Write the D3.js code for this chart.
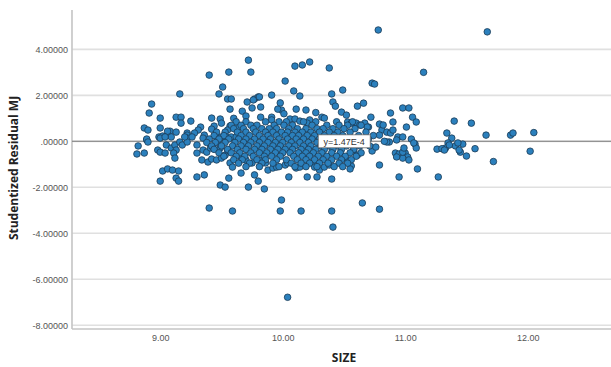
<!DOCTYPE html>
<html>
<head>
<meta charset="utf-8">
<script src="https://cdn.jsdelivr.net/npm/d3@7"></script>
<style>
  html, body { margin: 0; padding: 0; background: #fff; }
  svg { display: block; }
</style>
</head>
<body>
<svg id="chart" width="611" height="367"></svg>
<script>
// ---------- data ----------
const xTickValues = [9, 10, 11, 12];
const yTickValues = [4, 2, 0, -2, -4, -6, -8];
const xTitle = "SIZE";
const yTitle = "Studentized Residual MJ";
const fitLabel = "y=1.47E-4";
const fitValue = 0.000147;

// sparse / outlying points [SIZE, studentized residual]
const outerPoints = [
  [10.78,4.84],[11.67,4.76],[10.04,-6.78],[11.15,3.00],[10.73,2.53],[10.75,2.49],
  [9.72,3.53],[9.74,3.01],[10.10,3.27],[10.16,3.32],[10.22,3.45],[10.38,3.19],[9.40,2.88],[9.56,3.01],
  [9.16,2.06],[8.93,1.62],[8.91,1.23],[9.00,1.01],[9.48,2.06],[9.51,2.36],[10.02,2.62],[10.09,2.19],
  [10.14,1.97],[10.40,2.06],[10.49,2.23],[9.55,1.84],[9.58,1.84],[9.57,1.40],[9.71,1.71],[9.77,1.84],
  [9.80,1.93],[9.75,1.45],[9.82,1.49],[9.91,2.01],[9.98,1.67],[9.99,1.36],[9.67,1.31],[9.42,1.01],
  [9.13,1.05],[9.17,1.05],[9.17,0.79],[9.25,0.88],[9.00,0.58],[8.87,0.58],[8.90,0.49],[9.08,0.44],
  [8.81,-0.55],[8.87,-0.51],[8.82,-0.20],[8.89,0.06],
  [9.00,-1.73],[9.02,-1.29],[9.06,-1.20],[9.10,-1.25],[9.15,-1.29],[9.13,-1.60],[9.15,-1.73],[9.30,-1.55],
  [9.36,-1.46],[9.49,-1.90],[9.53,-1.99],[9.56,-1.60],[9.66,-1.38],[9.72,-1.99],[9.77,-1.46],[9.80,-1.73],
  [9.85,-2.07],[9.99,-2.55],[9.98,-3.03],[10.15,-3.03],[10.40,-3.03],[10.41,-3.73],[9.59,-3.03],[9.40,-2.90],
  [10.05,-1.55],[10.20,-1.55],[10.28,-1.55],[10.40,-1.64]
];

// right-hand points
const rightPoints = [
  [10.41,1.71],[10.43,1.53],[10.19,1.36],[10.48,1.27],[10.52,1.14],[10.61,1.53],[10.66,1.66],[10.72,1.05],
  [10.88,1.23],[10.98,1.45],[11.03,1.45],[11.06,1.05],[11.09,0.84],[10.90,0.84],[11.01,0.62],[10.79,0.75],
  [10.81,0.49],[10.70,0.62],[10.85,0.40],[10.88,0.36],[10.94,0.19],[10.98,0.19],[11.05,0.10],[11.08,-0.12],
  [11.09,-0.29],[11.40,0.88],[11.54,0.79],[11.34,0.36],[11.38,0.14],[11.66,0.27],[11.86,0.27],[11.88,0.36],
  [12.05,0.38],[12.02,-0.43],[11.72,-0.88],[11.57,-0.32],[11.50,-0.64],[11.45,-0.47],[11.47,-0.12],[11.41,-0.20],
  [11.35,-0.07],[11.33,-0.29],[11.26,-0.34],[11.27,-1.55],[11.10,-1.20],[10.95,-1.55],[10.79,-1.03],[10.92,-0.51],
  [10.95,-0.55],[11.00,-0.51],[11.02,-0.68],[10.98,-0.73],[10.65,-2.68],[10.79,-2.95],[10.56,-1.07],[10.55,-1.20],
  [10.79,0.27],[10.87,-0.03],[10.85,-0.03],[10.73,-0.42],[10.76,-0.25],[11.30,-0.32],[11.32,-0.38],
  [10.53,0.84],[10.56,0.79],[10.60,0.79],[10.63,0.71],[10.67,0.79],[10.69,0.62],[10.82,0.71],[10.90,0.49],
  [10.53,-0.81],[10.93,-0.68],[10.98,-0.47],[10.99,-0.29],[11.03,-0.81],[11.07,-0.07],[11.36,-0.16],[11.43,-0.07],
  [11.44,-0.38],[10.83,0.00],[10.93,0.06],[10.58,-0.38],[10.61,-0.60]
];

// left-hand cluster
const leftPoints = [
  [9.06,0.27],[9.09,0.19],[9.13,0.40],[9.22,0.36],[9.22,0.19],[9.33,0.62],[9.31,0.49],[9.28,0.36],
  [9.44,0.66],[9.42,0.53],[9.49,0.97],[9.50,0.79],[9.57,0.66],[9.55,0.49],[9.53,0.40],[9.64,0.62],
  [9.06,0.44],[8.99,0.19],[9.02,0.23],[9.22,0.27],[9.22,0.14],[9.36,0.27],[9.35,0.14],[9.46,0.19],
  [9.50,0.19],[9.54,0.19],[9.58,0.19],[9.62,0.19],[8.89,0.10],[8.90,-0.03],[9.00,0.14],[9.04,0.19],
  [8.98,-0.38],[9.00,-0.47],[9.04,-0.51],[9.05,-0.16],[9.09,-0.29],[9.12,-0.16],[9.13,-0.38],[9.11,-0.51],
  [9.12,-0.73],[9.16,-0.03],[9.18,-0.16],[9.22,-0.03],[9.20,0.19],[9.26,0.19],[9.30,-0.16],[9.30,-0.51],
  [9.34,-0.81],[9.39,-0.90],[9.42,-0.77],[9.35,-0.38],[9.38,-0.47],[9.41,-0.29],[9.43,-0.25],[9.47,-0.03],
  [9.49,-0.29],[9.46,-0.81],[9.50,-0.73],[9.53,-0.60],[9.55,-0.38],[9.57,-0.94],[9.59,-1.12]
];

// central points
const midPoints = [
  [9.88,-1.25],[9.92,-1.16],[9.95,-1.12],[10.02,-1.03],[10.04,-0.94],[10.11,-1.16],[10.14,-1.12],[10.24,-0.94],
  [10.26,-1.12],[10.30,-1.25],[10.34,-1.12],[10.38,-1.03],[9.66,-0.68],[9.70,-0.81],[9.75,-0.94],[9.81,-0.81],
  [9.86,-0.94],[9.76,1.80],[9.81,1.93],[9.96,1.40],[10.11,1.40],[9.82,1.05],[9.91,1.05],[9.91,0.93],
  [10.06,0.97],[10.10,0.97],[10.14,0.88],[10.22,0.93],[10.20,0.79],[10.32,1.05],[10.34,1.01],[10.01,1.20],
  [10.27,1.25],[9.70,1.10],[9.60,1.00],
  [9.62,0.85],[9.70,0.85],[9.86,0.85],[9.97,0.85],[10.03,0.85],[10.17,0.85],[10.27,0.85],[10.44,0.85],[10.57,0.85],
  [9.58,0.70],[9.66,0.70],[9.74,0.70],[9.79,0.70],[9.93,0.70],[10.01,0.70],[10.08,0.70],[10.24,0.70],[10.36,0.70],[10.46,0.70],[10.53,0.70],[10.64,0.70],
  [9.60,0.55],[9.68,0.55],[9.76,0.55],[9.83,0.55],[9.89,0.55],[9.95,0.55],[10.05,0.55],[10.12,0.55],[10.19,0.55],[10.28,0.55],[10.33,0.55],[10.41,0.55],[10.50,0.55],[10.59,0.55],
  [9.46,0.40],[9.63,0.40],[9.70,0.40],[9.78,0.40],[9.86,0.40],[9.92,0.40],[9.99,0.40],[10.04,0.40],[10.10,0.40],[10.16,0.40],[10.23,0.40],[10.30,0.40],[10.38,0.40],[10.45,0.40],[10.55,0.40],[10.68,0.40],
  [9.44,0.25],[9.52,0.25],[9.66,0.25],[9.73,0.25],[9.81,0.25],[9.88,0.25],[9.95,0.25],[10.02,0.25],[10.08,0.25],[10.13,0.25],[10.20,0.25],[10.26,0.25],[10.34,0.25],[10.42,0.25],[10.49,0.25],[10.62,0.25],[10.74,0.25],
  [9.40,0.10],[9.48,0.10],[9.56,0.10],[9.64,0.10],[9.70,0.10],[9.77,0.10],[9.84,0.10],[9.90,0.10],[9.97,0.10],[10.04,0.10],[10.11,0.10],[10.17,0.10],[10.24,0.10],[10.30,0.10],[10.37,0.10],[10.46,0.10],[10.53,0.10],[10.60,0.10],[10.70,0.10],
  [9.38,-0.05],[9.45,-0.05],[9.53,-0.05],[9.61,-0.05],[9.68,-0.05],[9.74,-0.05],[9.81,-0.05],[9.88,-0.05],[9.94,-0.05],[10.00,-0.05],[10.07,-0.05],[10.14,-0.05],[10.21,-0.05],[10.28,-0.05],[10.35,-0.05],[10.42,-0.05],[10.50,-0.05],[10.57,-0.05],[10.66,-0.05],
  [9.42,-0.20],[9.50,-0.20],[9.59,-0.20],[9.66,-0.20],[9.72,-0.20],[9.79,-0.20],[9.85,-0.20],[9.92,-0.20],[9.98,-0.20],[10.05,-0.20],[10.10,-0.20],[10.17,-0.20],[10.23,-0.20],[10.31,-0.20],[10.38,-0.20],[10.45,-0.20],[10.52,-0.20],[10.63,-0.20],[10.71,-0.20],
  [9.44,-0.35],[9.55,-0.35],[9.63,-0.35],[9.70,-0.35],[9.77,-0.35],[9.83,-0.35],[9.90,-0.35],[9.96,-0.35],[10.02,-0.35],[10.08,-0.35],[10.15,-0.35],[10.21,-0.35],[10.27,-0.35],[10.34,-0.35],[10.41,-0.35],[10.48,-0.35],[10.58,-0.35],
  [9.48,-0.50],[9.58,-0.50],[9.65,-0.50],[9.74,-0.50],[9.81,-0.50],[9.87,-0.50],[9.94,-0.50],[10.00,-0.50],[10.06,-0.50],[10.13,-0.50],[10.19,-0.50],[10.25,-0.50],[10.32,-0.50],[10.40,-0.50],[10.47,-0.50],[10.55,-0.50],[10.64,-0.50],
  [9.52,-0.65],[9.62,-0.65],[9.69,-0.65],[9.76,-0.65],[9.85,-0.65],[9.91,-0.65],[9.98,-0.65],[10.09,-0.65],[10.16,-0.65],[10.22,-0.65],[10.29,-0.65],[10.36,-0.65],[10.44,-0.65],[10.51,-0.65],[10.60,-0.65],
  [9.60,-0.80],[9.67,-0.80],[9.79,-0.80],[9.86,-0.80],[9.95,-0.80],[10.03,-0.80],[10.12,-0.80],[10.19,-0.80],[10.26,-0.80],[10.33,-0.80],[10.40,-0.80],[10.48,-0.80],[10.56,-0.80],
  [9.64,-0.95],[9.73,-0.95],[9.83,-0.95],[9.92,-0.95],[10.07,-0.95],[10.15,-0.95],[10.22,-0.95],[10.30,-0.95],[10.37,-0.95],[10.46,-0.95],[10.53,-0.95],
  [9.70,-1.10],[9.81,-1.10],[9.97,-1.10],[10.10,-1.10],[10.19,-1.10],[10.28,-1.10],[10.42,-1.10],[10.49,-1.10]
];

// ---------- layout ----------
const svg = d3.select("#chart");
const plotLeft = 72, plotRight = 611, plotTop = 10, plotBottom = 329;

const x = d3.scaleLinear().domain([8.28, 12.68]).range([plotLeft, plotRight]);
const y = d3.scaleLinear().domain([-8.16, 5.71]).range([plotBottom, plotTop]);

// gridlines
svg.append("g").selectAll("line").data(yTickValues).join("line")
  .attr("x1", plotLeft).attr("x2", plotRight)
  .attr("y1", d => y(d)).attr("y2", d => y(d))
  .attr("stroke", "#e0e0e0").attr("stroke-width", 1.6);

// axes lines
svg.append("line").attr("x1", plotLeft).attr("x2", plotLeft).attr("y1", plotTop).attr("y2", plotBottom)
  .attr("stroke", "#c4c4c4").attr("stroke-width", 1.6);
svg.append("line").attr("x1", plotLeft).attr("x2", plotRight).attr("y1", plotBottom).attr("y2", plotBottom)
  .attr("stroke", "#c4c4c4").attr("stroke-width", 1.6);

// y axis
const yFmt = v => v === 0 ? ".00000" : (v < 0 ? "-" : "") + Math.abs(v).toFixed(5);
const yAxis = svg.append("g").attr("transform", `translate(${plotLeft},0)`)
  .call(d3.axisLeft(y).tickValues(yTickValues).tickFormat(yFmt).tickSize(0).tickPadding(4));
yAxis.select(".domain").remove();
yAxis.selectAll("text").attr("fill", "#555").style("font-family", "Liberation Sans, Arial, sans-serif").style("font-size", "9px");

// x axis
const xAxis = svg.append("g").attr("transform", `translate(0,${plotBottom})`)
  .call(d3.axisBottom(x).tickValues(xTickValues).tickFormat(d3.format(".2f")).tickSize(0).tickPadding(6));
xAxis.select(".domain").remove();
xAxis.selectAll("text").attr("fill", "#555").style("font-family", "Liberation Sans, Arial, sans-serif").style("font-size", "9px");

// fit line at y ≈ 0
svg.append("line").attr("x1", plotLeft).attr("x2", plotRight)
  .attr("y1", y(fitValue)).attr("y2", y(fitValue))
  .attr("stroke", "#7a7a7a").attr("stroke-width", 1.1);

// points
const allPoints = outerPoints.concat(rightPoints, leftPoints, midPoints);
svg.append("g").selectAll("circle").data(allPoints).join("circle")
  .attr("cx", d => x(d[0])).attr("cy", d => y(d[1])).attr("r", 3.3)
  .attr("fill", "#2b80bd").attr("stroke", "#1c3b56").attr("stroke-width", 0.8);

// fit label
const lbl = svg.append("g").attr("transform", `translate(${x(10.29)},${y(fitValue)})`);
lbl.append("rect").attr("x", 0).attr("y", -6.5).attr("width", 52).attr("height", 13)
  .attr("fill", "#fff").attr("stroke", "#666").attr("stroke-width", 0.8);
lbl.append("text").attr("x", 26).attr("y", 3.3).attr("text-anchor", "middle")
  .attr("fill", "#333").style("font-family", "Liberation Sans, Arial, sans-serif").style("font-size", "9px")
  .text(fitLabel);

// titles
svg.append("text").attr("x", 344).attr("y", 362).attr("text-anchor", "middle")
  .style("font-family", "Open Sans, sans-serif").style("font-weight", "bold").style("font-size", "12px")
  .attr("fill", "#222").text(xTitle);
svg.append("text").attr("transform", "translate(18,168) rotate(-90)").attr("text-anchor", "middle")
  .style("font-family", "Open Sans, sans-serif").style("font-weight", "bold").style("font-size", "12px")
  .attr("fill", "#222").text(yTitle);
</script>
</body>
</html>
